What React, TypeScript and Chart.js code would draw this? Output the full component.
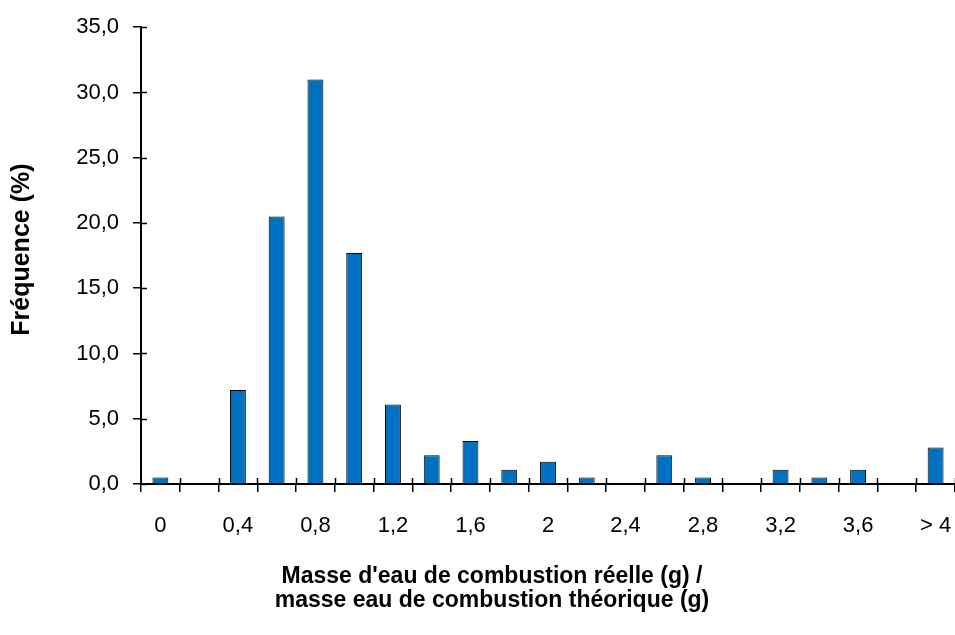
import React, { useEffect, useRef } from 'react';
import { Chart, registerables } from 'chart.js';

Chart.register(...registerables);

// ---- data ----
const categories: string[] = [
  '0', '0,2', '0,4', '0,6', '0,8', '1', '1,2', '1,4', '1,6', '1,8',
  '2', '2,2', '2,4', '2,6', '2,8', '3', '3,2', '3,4', '3,6', '3,8', '> 4',
];
const frequencies: number[] = [
  0.5, 0, 7.2, 20.5, 31.0, 17.7, 6.1, 2.2, 3.3, 1.1,
  1.7, 0.5, 0, 2.2, 0.5, 0, 1.1, 0.5, 1.1, 0, 2.8,
];
const yMin = 0;
const yMax = 35;
const yStep = 5;
const yTitle = 'Fréquence (%)';
const xTitleLines: string[] = [
  "Masse d'eau de combustion réelle (g) /",
  'masse eau de combustion théorique (g)',
];

const FONT = '"Liberation Sans", Arial, Helvetica, sans-serif';

const innerTicks = {
  id: 'innerTicks',
  afterDraw(chart: any) {
    const { ctx, chartArea, scales } = chart;
    ctx.save();
    ctx.strokeStyle = '#000';
    ctx.lineWidth = 1.5;
    const ys = scales.y;
    ys.ticks.forEach((t: any) => {
      const py = Math.round(ys.getPixelForValue(t.value)) + 0.5;
      ctx.beginPath();
      ctx.moveTo(chartArea.left, py);
      ctx.lineTo(chartArea.left + 6, py);
      ctx.stroke();
    });
    const xs = scales.x;
    for (let i = 1; i <= categories.length; i++) {
      const px = Math.round(xs.getPixelForValue(i - 0.5)) + 0.5;
      ctx.beginPath();
      ctx.moveTo(px, chartArea.bottom);
      ctx.lineTo(px, chartArea.bottom - 6);
      ctx.stroke();
    }
    ctx.restore();
  },
};

const titlesPlugin = {
  id: 'axisTitles',
  afterDraw(chart: any) {
    const { ctx, chartArea } = chart;
    ctx.save();
    ctx.fillStyle = '#000';
    // x-axis title (two centred lines)
    ctx.font = `bold 23px ${FONT}`;
    ctx.textAlign = 'center';
    ctx.textBaseline = 'alphabetic';
    const cx = (chartArea.left + chartArea.right) / 2 - 56;
    xTitleLines.forEach((line, i) => {
      ctx.fillText(line, cx, chartArea.bottom + 99 + i * 24);
    });
    // y-axis title (rotated)
    ctx.font = `bold 25px ${FONT}`;
    ctx.textBaseline = 'middle';
    ctx.translate(22, (chartArea.top + chartArea.bottom) / 2 - 6);
    ctx.rotate(-Math.PI / 2);
    ctx.fillText(yTitle, 0, 0);
    ctx.restore();
  },
};

export default function App() {
  const canvasRef = useRef<HTMLCanvasElement | null>(null);

  useEffect(() => {
    if (!canvasRef.current) return;
    const chart = new Chart(canvasRef.current, {
      type: 'bar',
      data: {
        labels: categories,
        datasets: [
          {
            data: frequencies,
            backgroundColor: '#0070C0',
            borderColor: '#000',
            borderWidth: 1,
            barPercentage: 0.41,
            categoryPercentage: 1,
          },
        ],
      },
      options: {
        responsive: false,
        animation: false,
        layout: { padding: { top: 26, right: 0, bottom: 0, left: 0 } },
        plugins: {
          legend: { display: false },
          tooltip: { enabled: false },
          title: { display: false },
        },
        scales: {
          x: {
            grid: {
              display: true,
              drawOnChartArea: false,
              drawTicks: true,
              tickLength: 8,
              color: '#000',
              lineWidth: 1.5,
              offset: true,
            },
            border: { display: true, color: '#000', width: 2 },
            ticks: {
              autoSkip: false,
              maxRotation: 0,
              minRotation: 0,
              padding: 21,
              color: '#000',
              font: { family: FONT, size: 22 },
              callback: (_v: any, i: number) => (i % 2 === 0 ? categories[i] : ''),
            },
            afterFit: (s: any) => {
              s.height = 151;
              s.paddingLeft = 0;
              s.paddingRight = 0;
            },
          },
          y: {
            min: yMin,
            max: yMax,
            grid: {
              display: true,
              drawOnChartArea: false,
              drawTicks: true,
              tickLength: 8,
              color: '#000',
              lineWidth: 1.5,
            },
            border: { display: true, color: '#000', width: 2 },
            ticks: {
              stepSize: yStep,
              padding: 14,
              color: '#000',
              font: { family: FONT, size: 22 },
              callback: (v: any) => Number(v).toFixed(1).replace('.', ','),
            },
            afterFit: (s: any) => {
              s.width = 141;
            },
          },
        },
      },
      plugins: [innerTicks, titlesPlugin],
    });
    return () => chart.destroy();
  }, []);

  return (
    <div style={{ position: 'absolute', left: 0, top: 0, width: 955, height: 635, background: '#fff' }}>
      <canvas ref={canvasRef} width={955} height={635} />
    </div>
  );
}
